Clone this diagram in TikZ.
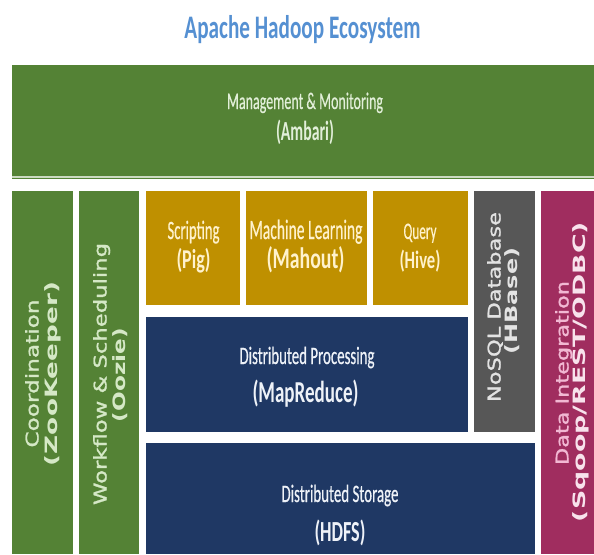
\documentclass[tikz,border=0pt]{standalone}
\usepackage{fontspec}
\setmainfont{Carlito}
\newfontfamily\regfont{Carlito}[FakeBold=0.6]
\newfontfamily\rotfont{DejaVu Sans}[FakeBold=1.2]
\newfontfamily\rotboldfont{DejaVu Sans Bold}
\usepackage{graphicx}
\definecolor{hgreen}{HTML}{548235}
\definecolor{hgold}{HTML}{BF9000}
\definecolor{hnavy}{HTML}{1F3864}
\definecolor{hgray}{HTML}{575757}
\definecolor{hmag}{HTML}{A02D5F}
\definecolor{htitle}{HTML}{5590D2}
\definecolor{tgreen}{HTML}{E2EFD9}
\definecolor{tgreenv}{HTML}{D5E8C6}
\definecolor{tgold}{HTML}{FFF2CC}
\definecolor{tnavy}{HTML}{EEF2F8}
\definecolor{tgray}{HTML}{E3E3E3}
\definecolor{tmag}{HTML}{F2B8D3}
\definecolor{tmagb}{HTML}{F8E2EC}
% horizontal text: width, vertical stretch, text
\newcommand{\htxt}[3]{\scalebox{1}[#2]{\resizebox{#1}{!}{#3}}}
% rotated text: length along the line, text
\newcommand{\vtxt}[2]{\resizebox{#1}{\height}{#2}}
\begin{document}
\begin{tikzpicture}[x=1pt,y=-1pt,
  box/.style={rectangle, draw=none, inner sep=0pt, anchor=north west},
  hreg/.style={anchor=base, inner sep=0pt, font=\regfont\fontsize{15}{15}\selectfont},
  hbold/.style={anchor=base, inner sep=0pt, font=\fontsize{18}{18}\selectfont\bfseries},
  vreg/.style={anchor=base, inner sep=0pt, rotate=90, font=\rotfont\fontsize{17.5}{17.5}\selectfont},
  vbold/.style={anchor=base, inner sep=0pt, rotate=90, font=\rotboldfont\fontsize{17}{17}\selectfont}]
\useasboundingbox (0,0) rectangle (594,554);
\fill[white] (0,0) rectangle (594,554);

% title
\node[anchor=base, inner sep=0pt, text=htitle, font=\fontsize{21}{21}\selectfont\bfseries] (title) at (302.5,38) {\htxt{236pt}{1.55}{Apache Hadoop Ecosystem}};

% boxes
\node[box, fill=hgreen, minimum width=582pt, minimum height=114pt] (ambari) at (12,65) {};
\draw[hgreen!30, line width=2pt] (ambari.south west) ++(0,-2.5) coordinate (pl) -- (pl -| ambari.south east);
\node[box, fill=hgreen, minimum width=61pt, minimum height=363pt] (zoo) at (12,191) {};
\node[box, fill=hgreen, minimum width=60pt, minimum height=363pt] (oozie) at (79,191) {};
\node[box, fill=hgold, minimum width=94pt, minimum height=114pt] (pig) at (146,191) {};
\node[box, fill=hgold, minimum width=121pt, minimum height=114pt] (mahout) at (246,191) {};
\node[box, fill=hgold, minimum width=95pt, minimum height=114pt] (hive) at (373,191) {};
\node[box, fill=hgray, minimum width=61pt, minimum height=241pt] (hbase) at (474,191) {};
\node[box, fill=hmag, minimum width=53pt, minimum height=363pt] (dataint) at (541,191) {};
\node[box, fill=hnavy, minimum width=322pt, minimum height=115pt] (mapred) at (146,317) {};
\node[box, fill=hnavy, minimum width=389pt, minimum height=111pt] (hdfs) at (146,443) {};

% Ambari
\node[hreg, text=tgreen] (ambari1) at (305,109) {\htxt{156pt}{1.7}{Management \& Monitoring}};
\node[hbold, text=tgreen] (ambari2) at (305,140) {\htxt{58pt}{1.75}{(Ambari)}};

% gold row
\node[hreg, text=tgold] (pig1) at (193.5,239) {\htxt{52pt}{1.8}{Scripting}};
\node[hbold, text=tgold] (pig2) at (193.5,268) {\htxt{34pt}{1.5}{(Pig)}};
\node[hreg, text=tgold] (mahout1) at (306,239) {\htxt{113pt}{1.8}{Machine Learning}};
\node[hbold, text=tgold] (mahout2) at (305.5,268) {\htxt{78pt}{1.5}{(Mahout)}};
\node[hreg, text=tgold] (hive1) at (420,239) {\htxt{33pt}{1.8}{Query}};
\node[hbold, text=tgold] (hive2) at (420,268) {\htxt{41pt}{1.5}{(Hive)}};

% navy
\node[hreg, text=tnavy] (mapred1) at (307,364) {\htxt{135pt}{1.68}{Distributed Processing}};
\node[hbold, text=tnavy] (mapred2) at (305.5,402) {\htxt{106pt}{1.6}{(MapReduce)}};
\node[hreg, text=tnavy] (hdfs1) at (340,502) {\htxt{117pt}{1.68}{Distributed Storage}};
\node[hbold, text=tnavy] (hdfs2) at (340,541) {\htxt{51pt}{1.6}{(HDFS)}};

% rotated
\node[vreg, text=tgreenv] (zoo1) at (38.5,373.5) {\vtxt{148pt}{Coordination}};
\node[vbold, text=tgreenv] (zoo2) at (57.5,374) {\vtxt{184pt}{(ZooKeeper)}};
\node[vreg, text=tgreenv] (oozie1) at (106.5,374) {\vtxt{262pt}{Workflow \& Scheduling}};
\node[vbold, text=tgreenv] (oozie2) at (125.5,375) {\vtxt{94pt}{(Oozie)}};
\node[vreg, text=tgray] (hbase1) at (500.5,307) {\vtxt{190pt}{NoSQL Database}};
\node[vbold, text=tgray] (hbase2) at (517.5,301) {\vtxt{107pt}{(HBase)}};
\node[vreg, text=tmag] (dataint1) at (568.5,373) {\vtxt{184pt}{Data Integration}};
\node[vbold, text=tmagb] (dataint2) at (585.5,372) {\vtxt{300pt}{(Sqoop/REST/ODBC)}};
\end{tikzpicture}
\end{document}
